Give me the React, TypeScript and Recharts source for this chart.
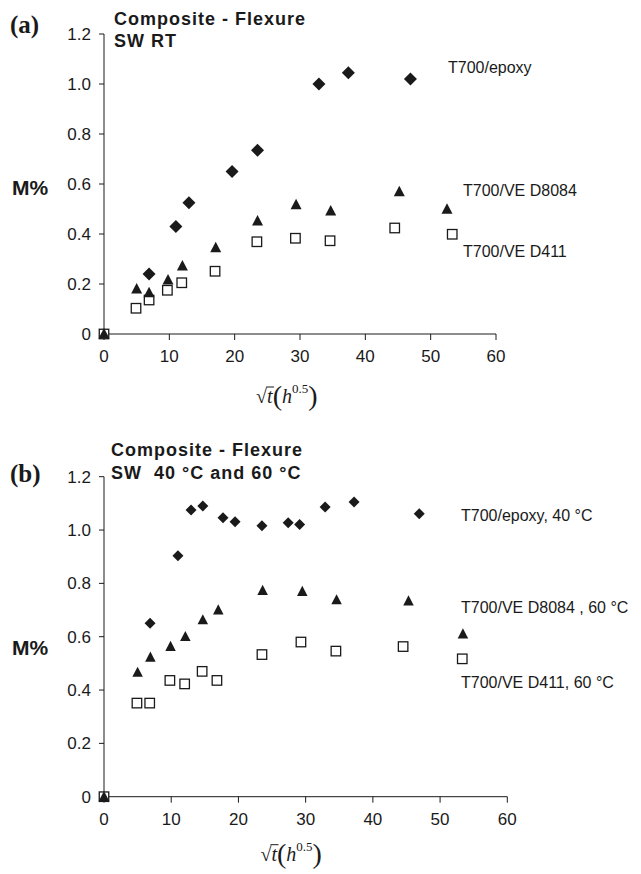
import { Scatter, ScatterChart, XAxis, YAxis } from "recharts";

// (a) seawater, room temperature
const epoxyRT: [number, number][] = [
  [6.9, 0.24], [11.0, 0.43], [13.0, 0.525], [19.6, 0.65], [23.5, 0.735],
  [32.9, 1.0], [37.4, 1.045], [46.9, 1.02],
];
const d8084RT: [number, number][] = [
  [0, 0], [5.0, 0.18], [6.9, 0.165], [9.8, 0.216], [12.0, 0.272], [17.1, 0.345],
  [23.5, 0.452], [29.4, 0.517], [34.7, 0.492], [45.2, 0.569], [52.5, 0.499],
];
const d411RT: [number, number][] = [
  [0, 0], [4.9, 0.103], [6.9, 0.136], [9.7, 0.175], [11.9, 0.205], [17.0, 0.251],
  [23.4, 0.369], [29.3, 0.383], [34.6, 0.373], [44.5, 0.424], [53.3, 0.399],
];

// (b) seawater, 40 °C and 60 °C
const epoxy40: [number, number][] = [
  [6.85, 0.65], [11.0, 0.904], [12.95, 1.075], [14.7, 1.09], [17.7, 1.046], [19.5, 1.031],
  [23.5, 1.016], [27.4, 1.027], [29.1, 1.021], [32.9, 1.086], [37.2, 1.105], [46.9, 1.061],
];
const d8084_60: [number, number][] = [
  [0, 0], [5.0, 0.466], [6.9, 0.523], [9.9, 0.563], [12.1, 0.6], [14.7, 0.663], [17.0, 0.7],
  [23.6, 0.773], [29.5, 0.769], [34.6, 0.738], [45.3, 0.734], [53.4, 0.61],
];
const d411_60: [number, number][] = [
  [0, 0], [4.9, 0.351], [6.8, 0.351], [9.8, 0.436], [12.0, 0.423], [14.6, 0.47], [16.8, 0.436],
  [23.5, 0.533], [29.3, 0.58], [34.5, 0.546], [44.5, 0.563], [53.3, 0.517],
];

const xTicks = [0, 10, 20, 30, 40, 50, 60];
const yTicks = [0, 0.2, 0.4, 0.6, 0.8, 1.0, 1.2];

const toPts = (arr: [number, number][]) => arr.map(([x, y]) => ({ x, y }));

const INK = "#1a1a1a";
const SANS = "'Liberation Sans', Arial, Helvetica, sans-serif";
const SERIF = "'Liberation Serif', 'Times New Roman', serif";

const diamond = (r: number) => (p: any) => (
  <path
    d={`M${p.cx},${p.cy - r}L${p.cx + r},${p.cy}L${p.cx},${p.cy + r}L${p.cx - r},${p.cy}Z`}
    fill={INK}
  />
);
const triangle = (w: number) => (p: any) => (
  <path
    d={`M${p.cx},${p.cy - w * 0.55}L${p.cx + w / 2},${p.cy + w * 0.42}L${p.cx - w / 2},${p.cy + w * 0.42}Z`}
    fill={INK}
  />
);
const square = (s: number) => (p: any) => (
  <rect x={p.cx - s / 2} y={p.cy - s / 2} width={s} height={s} fill="#fff" stroke={INK} strokeWidth={1.3} />
);

// sqrt(t) (h^0.5) axis title
function RootLabel(props: any) {
  const { x, y, width } = props.viewBox;
  const x0 = x + width * 0.388;
  const base = y + props.drop;
  return (
    <g>
      <text x={x0} y={base} fontFamily={SERIF} fontSize={20} fill={INK}>
        <tspan fontWeight="bold">√</tspan>
        <tspan fontStyle="italic">t</tspan>
        <tspan fontSize={28} dy={2}>(</tspan>
        <tspan fontStyle="italic" dy={-2}>h</tspan>
        <tspan fontSize={13} dy={-10}>0.5</tspan>
        <tspan fontSize={28} dy={12}>)</tspan>
      </text>
      <line x1={x0 + 10} x2={x0 + 18} y1={base - 16} y2={base - 16} stroke={INK} strokeWidth={1} />
    </g>
  );
}

const yFmt = (v: number) => (v === 0 ? "0" : v.toFixed(1));

function Panel(props: {
  top: number;
  height: number;
  margin: { top: number; right: number; bottom: number; left: number };
  epoxy: [number, number][];
  d8084: [number, number][];
  d411: [number, number][];
  sizes: { d: number; t: number; s: number };
  drop: number;
}) {
  const tick = { fill: INK, fontSize: 17, fontFamily: SANS };
  return (
    <div style={{ position: "absolute", left: 0, top: props.top }}>
      <ScatterChart width={641} height={props.height} margin={props.margin}>
        <XAxis
          type="number"
          dataKey="x"
          domain={[0, 60]}
          ticks={xTicks}
          interval={0}
          tickSize={6}
          tickMargin={10}
          height={30}
          stroke={INK}
          tick={tick}
          label={{ content: (lp: any) => <RootLabel {...lp} drop={props.drop} /> }}
        />
        <YAxis
          type="number"
          dataKey="y"
          domain={[0, 1.2]}
          ticks={yTicks}
          interval={0}
          tickSize={5}
          tickMargin={8}
          width={60}
          stroke={INK}
          tick={tick}
          tickFormatter={yFmt}
        />
        <Scatter data={toPts(props.epoxy)} shape={diamond(props.sizes.d)} isAnimationActive={false} />
        <Scatter data={toPts(props.d411)} shape={square(props.sizes.s)} isAnimationActive={false} />
        <Scatter data={toPts(props.d8084)} shape={triangle(props.sizes.t)} isAnimationActive={false} />
      </ScatterChart>
    </div>
  );
}

export default function App() {
  return (
    <div style={{ position: "absolute", left: 0, top: 0, width: 641, height: 874, background: "#fff" }}>
      <Panel
        top={0}
        height={420}
        margin={{ top: 34, right: 145, bottom: 56, left: 44 }}
        epoxy={epoxyRT}
        d8084={d8084RT}
        d411={d411RT}
        sizes={{ d: 6.5, t: 11, s: 9.5 }}
        drop={69}
      />
      <Panel
        top={420}
        height={454}
        margin={{ top: 56.7, right: 133.7, bottom: 47.3, left: 44 }}
        epoxy={epoxy40}
        d8084={d8084_60}
        d411={d411_60}
        sizes={{ d: 5.5, t: 10.5, s: 9.5 }}
        drop={64}
      />
      <svg
        width={641}
        height={874}
        style={{ position: "absolute", left: 0, top: 0, pointerEvents: "none" }}
      >
        <g fontFamily={SERIF} fontWeight="bold" fontSize={25} fill={INK}>
          <text x={10} y={33}>(a)</text>
          <text x={10} y={482}>(b)</text>
        </g>
        <g fontFamily={SANS} fontWeight="bold" fontSize={18} fill={INK} letterSpacing={1}>
          <text x={114} y={25}>Composite - Flexure</text>
          <text x={114} y={47}>SW RT</text>
          <text x={111} y={456}>Composite - Flexure</text>
          <text x={111} y={479} style={{ whiteSpace: "pre" }}>SW  40 °C and 60 °C</text>
        </g>
        <g fontFamily={SANS} fontWeight="bold" fontSize={21} fill={INK}>
          <text x={12} y={195}>M%</text>
          <text x={12} y={655}>M%</text>
        </g>
        <g fontFamily={SANS} fontSize={16} fill={INK}>
          <text x={448} y={73}>T700/epoxy</text>
          <text x={463} y={196}>T700/VE D8084</text>
          <text x={463} y={257}>T700/VE D411</text>
          <text x={461} y={521}>T700/epoxy, 40 °C</text>
          <text x={461} y={613}>T700/VE D8084 , 60 °C</text>
          <text x={461} y={688}>T700/VE D411, 60 °C</text>
        </g>
      </svg>
    </div>
  );
}
